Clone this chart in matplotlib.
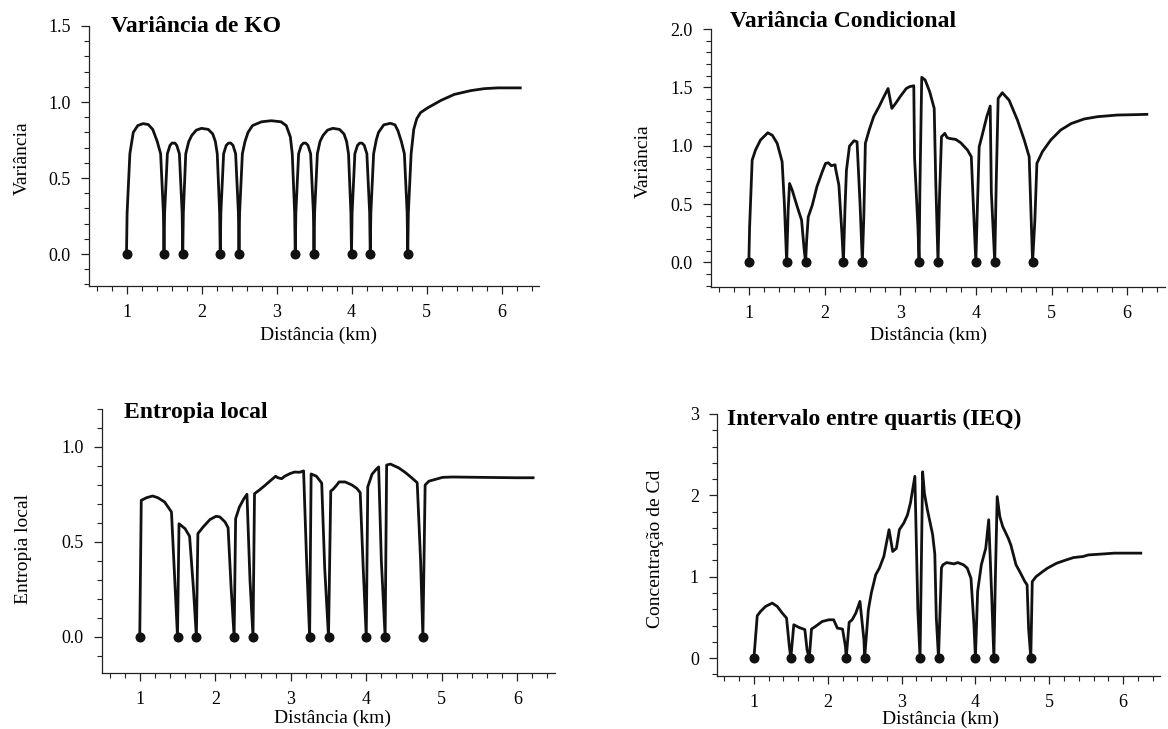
import numpy as np
import matplotlib.pyplot as plt
from matplotlib.ticker import MultipleLocator, FormatStrFormatter

plt.rcParams['font.family'] = ['Liberation Serif', 'DejaVu Serif']

# sampled locations (km), value zero at each
samples = [1.0, 1.5, 1.75, 2.25, 2.5, 3.25, 3.5, 4.0, 4.25, 4.75]

# Variancia de KO (distance, value)
ko_var = [
    (1.00, 0.0), (1.008, 0.27), (1.045, 0.66), (1.09, 0.80), (1.15, 0.845), (1.22, 0.858),
    (1.29, 0.852), (1.35, 0.82), (1.41, 0.74), (1.455, 0.66), (1.492, 0.27), (1.50, 0.0),
    (1.508, 0.27), (1.545, 0.66), (1.58, 0.715), (1.607, 0.73), (1.645, 0.73), (1.67, 0.715),
    (1.705, 0.66), (1.742, 0.27), (1.75, 0.0),
    (1.758, 0.27), (1.79, 0.66), (1.83, 0.74), (1.87, 0.78), (1.93, 0.815), (2.00, 0.827),
    (2.09, 0.82), (2.15, 0.79), (2.185, 0.74), (2.21, 0.66), (2.242, 0.27), (2.25, 0.0),
    (2.258, 0.27), (2.295, 0.66), (2.33, 0.715), (2.36, 0.73), (2.39, 0.73), (2.42, 0.715),
    (2.455, 0.66), (2.492, 0.27), (2.50, 0.0),
    (2.508, 0.27), (2.545, 0.66), (2.58, 0.74), (2.62, 0.80), (2.68, 0.845), (2.80, 0.87),
    (2.93, 0.877), (3.06, 0.87), (3.13, 0.845), (3.185, 0.77), (3.21, 0.66), (3.242, 0.27), (3.25, 0.0),
    (3.258, 0.27), (3.295, 0.66), (3.33, 0.715), (3.36, 0.73), (3.39, 0.73), (3.42, 0.715),
    (3.455, 0.66), (3.492, 0.27), (3.50, 0.0),
    (3.508, 0.27), (3.545, 0.66), (3.58, 0.74), (3.62, 0.78), (3.68, 0.815), (3.75, 0.827),
    (3.84, 0.82), (3.90, 0.79), (3.935, 0.74), (3.96, 0.66), (3.992, 0.27), (4.00, 0.0),
    (4.008, 0.27), (4.045, 0.66), (4.08, 0.715), (4.11, 0.73), (4.14, 0.73), (4.17, 0.715),
    (4.205, 0.66), (4.242, 0.27), (4.25, 0.0),
    (4.258, 0.27), (4.295, 0.66), (4.33, 0.75), (4.36, 0.80), (4.43, 0.85), (4.52, 0.86),
    (4.58, 0.85), (4.62, 0.81), (4.665, 0.74), (4.705, 0.66), (4.742, 0.27), (4.75, 0.0),
    (4.758, 0.27), (4.795, 0.66), (4.83, 0.82), (4.87, 0.89), (4.92, 0.93), (5.01, 0.96),
    (5.19, 1.01), (5.37, 1.05), (5.59, 1.075), (5.77, 1.088), (5.95, 1.093), (6.25, 1.093),
]

# Variancia Condicional
cond_var = [
    (1.00, 0.0), (1.01, 0.3), (1.044, 0.877), (1.088, 0.963), (1.154, 1.049), (1.25, 1.111),
    (1.31, 1.09), (1.375, 1.02), (1.44, 0.863), (1.47, 0.5), (1.50, 0.0),
    (1.52, 0.45), (1.538, 0.677), (1.573, 0.62), (1.64, 0.477), (1.697, 0.363), (1.73, 0.12), (1.75, 0.0),
    (1.765, 0.2), (1.785, 0.39), (1.838, 0.49), (1.90, 0.65), (1.97, 0.777), (2.014, 0.849),
    (2.05, 0.854), (2.09, 0.829), (2.14, 0.837), (2.146, 0.806), (2.19, 0.663), (2.23, 0.25), (2.25, 0.0),
    (2.27, 0.45), (2.29, 0.79), (2.33, 0.997), (2.39, 1.043), (2.43, 1.034), (2.44, 0.9),
    (2.47, 0.5), (2.50, 0.0),
    (2.52, 0.4), (2.54, 1.02), (2.59, 1.134), (2.65, 1.25), (2.72, 1.334), (2.785, 1.42),
    (2.84, 1.49), (2.89, 1.32), (2.94, 1.363), (3.006, 1.426), (3.08, 1.49), (3.125, 1.506),
    (3.18, 1.514), (3.19, 0.9), (3.235, 0.3), (3.25, 0.0),
    (3.26, 0.6), (3.285, 1.586), (3.33, 1.563), (3.39, 1.463), (3.45, 1.32), (3.47, 0.7), (3.50, 0.0),
    (3.52, 0.56), (3.546, 1.077), (3.59, 1.106), (3.62, 1.07), (3.65, 1.063), (3.735, 1.054),
    (3.80, 1.026), (3.89, 0.963), (3.94, 0.906), (3.97, 0.45), (4.00, 0.0),
    (4.02, 0.46), (4.044, 0.99), (4.09, 1.106), (4.145, 1.25), (4.19, 1.34), (4.205, 0.6), (4.25, 0.0),
    (4.27, 0.7), (4.295, 1.406), (4.35, 1.454), (4.44, 1.39), (4.55, 1.22), (4.64, 1.049),
    (4.705, 0.906), (4.73, 0.4), (4.75, 0.0),
    (4.78, 0.36), (4.807, 0.849), (4.88, 0.949), (4.99, 1.049), (5.12, 1.134), (5.26, 1.19),
    (5.43, 1.229), (5.61, 1.249), (5.87, 1.263), (6.09, 1.266), (6.26, 1.269),
]

# Entropia local
entropy = [
    (1.00, 0.0), (1.02, 0.719), (1.09, 0.733), (1.17, 0.742), (1.24, 0.733), (1.33, 0.71),
    (1.42, 0.658), (1.465, 0.29), (1.50, 0.0),
    (1.52, 0.596), (1.60, 0.57), (1.66, 0.53), (1.71, 0.26), (1.75, 0.0),
    (1.77, 0.544), (1.84, 0.579), (1.93, 0.618), (2.01, 0.635), (2.06, 0.632), (2.13, 0.605),
    (2.17, 0.575), (2.21, 0.26), (2.25, 0.0),
    (2.27, 0.623), (2.32, 0.684), (2.38, 0.728), (2.42, 0.751), (2.46, 0.3), (2.50, 0.0),
    (2.52, 0.754), (2.59, 0.775), (2.66, 0.798), (2.72, 0.819), (2.80, 0.846), (2.83, 0.838),
    (2.88, 0.833), (2.92, 0.846), (2.99, 0.86), (3.05, 0.868), (3.12, 0.867), (3.17, 0.874),
    (3.21, 0.4), (3.25, 0.0),
    (3.27, 0.858), (3.34, 0.846), (3.41, 0.81), (3.45, 0.36), (3.50, 0.0),
    (3.53, 0.768), (3.56, 0.777), (3.61, 0.80), (3.64, 0.816), (3.72, 0.816), (3.81, 0.80),
    (3.875, 0.782), (3.92, 0.76), (3.96, 0.36), (4.00, 0.0),
    (4.02, 0.79), (4.076, 0.856), (4.13, 0.882), (4.164, 0.895), (4.20, 0.4), (4.25, 0.0),
    (4.27, 0.905), (4.32, 0.91), (4.43, 0.89), (4.52, 0.865), (4.61, 0.835), (4.675, 0.812),
    (4.72, 0.4), (4.75, 0.0),
    (4.78, 0.80), (4.83, 0.82), (4.92, 0.83), (5.01, 0.84), (5.14, 0.842), (5.54, 0.84),
    (5.99, 0.838), (6.21, 0.838),
]

# Intervalo entre quartis (IEQ)
ieq = [
    (1.00, 0.0), (1.045, 0.52), (1.09, 0.574), (1.158, 0.635), (1.248, 0.676), (1.316, 0.635),
    (1.384, 0.553), (1.442, 0.492), (1.48, 0.14), (1.50, 0.0),
    (1.54, 0.41), (1.61, 0.377), (1.69, 0.35), (1.72, 0.1), (1.75, 0.0),
    (1.78, 0.357), (1.835, 0.39), (1.925, 0.45), (2.016, 0.471), (2.08, 0.471), (2.13, 0.369),
    (2.20, 0.357), (2.24, 0.14), (2.25, 0.0),
    (2.29, 0.44), (2.33, 0.47), (2.38, 0.553), (2.436, 0.697), (2.49, 0.225), (2.50, 0.0),
    (2.55, 0.594), (2.59, 0.8), (2.65, 1.025), (2.70, 1.107), (2.76, 1.25), (2.83, 1.578),
    (2.88, 1.31), (2.93, 1.35), (2.97, 1.578), (3.03, 1.66), (3.08, 1.76), (3.12, 1.906),
    (3.18, 2.234), (3.22, 0.6), (3.25, 0.0),
    (3.285, 2.29), (3.31, 2.02), (3.35, 1.82), (3.39, 1.65), (3.42, 1.52), (3.45, 1.28),
    (3.47, 0.5), (3.50, 0.0),
    (3.54, 1.11), (3.56, 1.146), (3.61, 1.174), (3.71, 1.158), (3.76, 1.174), (3.84, 1.146),
    (3.89, 1.105), (3.94, 0.98), (3.98, 0.41), (4.00, 0.0),
    (4.03, 0.82), (4.08, 1.146), (4.14, 1.35), (4.18, 1.70), (4.22, 0.78), (4.25, 0.0),
    (4.27, 0.98), (4.295, 1.985), (4.33, 1.74), (4.37, 1.616), (4.445, 1.473), (4.48, 1.39),
    (4.55, 1.146), (4.60, 1.064), (4.67, 0.94), (4.70, 0.90), (4.72, 0.37), (4.75, 0.0),
    (4.77, 0.94), (4.82, 1.0), (4.90, 1.056), (4.975, 1.105), (5.10, 1.166), (5.23, 1.207),
    (5.33, 1.236), (5.455, 1.248), (5.53, 1.268), (5.73, 1.28), (5.88, 1.29), (6.24, 1.29),
]

W, H = 1168, 729


def make_panel(fig, box, ylim, yticks, yminor, yfmt, curve):
    left, top, right, bottom = box
    ax = fig.add_axes([left / W, 1 - bottom / H, (right - left) / W, (bottom - top) / H])
    for s in ['top', 'right']:
        ax.spines[s].set_visible(False)
    for s in ['left', 'bottom']:
        ax.spines[s].set_linewidth(0.9)
        ax.spines[s].set_color('#222222')
    ax.set_xlim(0.5, 6.5)
    ax.set_ylim(*ylim)
    ax.set_xticks([1, 2, 3, 4, 5, 6])
    ax.xaxis.set_minor_locator(MultipleLocator(0.2))
    ax.set_yticks(yticks)
    ax.yaxis.set_minor_locator(MultipleLocator(yminor))
    ax.yaxis.set_major_formatter(FormatStrFormatter(yfmt))
    ax.tick_params(which='major', direction='out', length=6, width=0.9, labelsize=13, pad=7, color='#222222')
    ax.tick_params(which='minor', direction='out', length=3.5, width=0.8, color='#222222')
    ax.patch.set_alpha(0)

    xs, ys = zip(*curve)
    ax.plot(xs, ys, color='#111111', linewidth=2.0, solid_joinstyle='round', clip_on=False)
    ax.plot(samples, [0] * len(samples), 'o', color='#111111', markersize=6.2, clip_on=False)
    return ax


def ftext(fig, x, y, s, **kw):
    fig.text(x / W, 1 - y / H, s, **kw)


fig = plt.figure(figsize=(11.68, 7.29), dpi=100)

make_panel(fig, (89, 26, 539, 286), (-0.21, 1.5), [0, 0.5, 1.0, 1.5], 0.1, '%.1f', ko_var)
make_panel(fig, (711, 29, 1165, 287), (-0.21, 2.0), [0, 0.5, 1.0, 1.5, 2.0], 0.1, '%.1f', cond_var)
make_panel(fig, (102, 409, 555, 673), (-0.19, 1.2), [0, 0.5, 1.0], 0.1, '%.1f', entropy)
make_panel(fig, (717, 414, 1160, 676), (-0.22, 3.0), [0, 1, 2, 3], 0.2, '%d', ieq)

# titles
title_kw = dict(fontsize=17, fontweight='bold', ha='left', va='baseline')
ftext(fig, 111, 32, 'Variância de KO', **title_kw)
ftext(fig, 730, 27, 'Variância Condicional', **title_kw)
ftext(fig, 124, 418, 'Entropia local', **title_kw)
ftext(fig, 727, 425, 'Intervalo entre quartis (IEQ)', **title_kw)

# axis labels
lab_kw = dict(fontsize=14, ha='center', va='center')
ftext(fig, 22, 158, 'Variância', rotation=90, **lab_kw)
ftext(fig, 643, 161, 'Variância', rotation=90, **lab_kw)
ftext(fig, 24, 549, 'Entropia local', rotation=90, **lab_kw)
ftext(fig, 656, 549, 'Concentração de Cd', rotation=90, **lab_kw)
ftext(fig, 318, 335, 'Distância (km)', **lab_kw)
ftext(fig, 929, 335, 'Distância (km)', **lab_kw)
ftext(fig, 333, 718, 'Distância (km)', **lab_kw)
ftext(fig, 940, 719, 'Distância (km)', **lab_kw)

fig.savefig('out.png', dpi=100)
